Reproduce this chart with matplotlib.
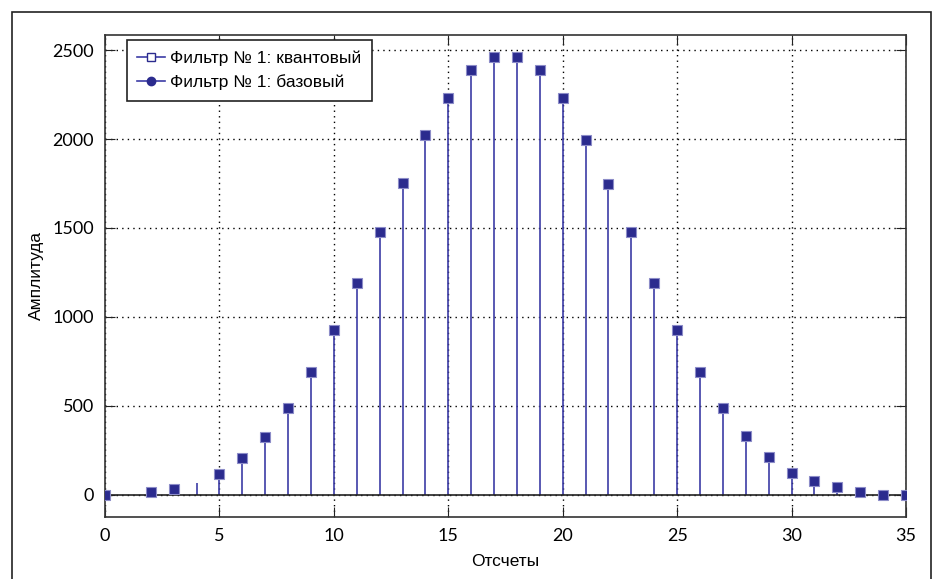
import matplotlib
matplotlib.use("Agg")
import matplotlib.pyplot as plt
import numpy as np
from matplotlib.lines import Line2D
from matplotlib.patches import Rectangle
from matplotlib.legend_handler import HandlerLine2D

# отсчеты и амплитуды фильтра
samples = list(range(36))
base = [0, 0, 13, 32, 66, 118, 208, 326, 489, 691, 927, 1191, 1477, 1753, 2020,
        2230, 2388, 2462, 2462, 2388, 2230, 1996, 1747, 1477, 1191, 927, 691,
        489, 333, 211, 125, 80, 42, 16, 0, 0]
quant = [0, None, 13, 32, None, 118, 208, 326, 489, 691, 927, 1191, 1477, 1753,
         2020, 2230, 2388, 2462, 2462, 2388, 2230, 1996, 1747, 1477, 1191, 927,
         691, 489, 333, 211, 125, 80, 42, 16, 0, 0]

line_color = "#3c3ca6"
mark_color = "#2b2b8e"

plt.rcParams['font.family'] = ['Liberation Sans', 'DejaVu Sans']


class EndMarkerHandler(HandlerLine2D):
    # маркер на правом конце линии в легенде
    def get_xdata(self, legend, xdescent, ydescent, width, height, fontsize):
        xdata = np.array([-xdescent, -xdescent + width])
        return xdata, np.array([-xdescent + width - 3])


fig = plt.figure(figsize=(9.36, 5.79), dpi=100)
ax = fig.add_axes([105 / 936, 1 - 517 / 579, 801 / 936, 482 / 579])

# рамка вокруг рисунка
fig.patches.append(Rectangle((12 / 936, -0.05), 919 / 936, 1 - 12 / 579 + 0.05,
                             transform=fig.transFigure, fill=False,
                             edgecolor="#222222", linewidth=1.2))

x = np.array(samples)
ax.vlines(x, 0, base, color=line_color, linewidth=1.2, zorder=2)
ax.plot([0, 35], [0, 0], color="#222222", linewidth=1.2, zorder=2)
q = np.array([np.nan if v is None else v for v in quant], dtype=float)
ax.plot(x, q, linestyle="none", marker="s", markersize=7,
        markerfacecolor=mark_color, markeredgecolor="#8c8cc8",
        markeredgewidth=0.8, zorder=3)

ax.set_xlim(0, 35)
ax.set_ylim(-125, 2585)
ax.set_xticks(range(0, 36, 5))
ax.set_yticks(range(0, 2501, 500))
ax.grid(True, color="black", linestyle=(0, (1, 3)), linewidth=1.0)
ax.tick_params(direction="in", length=7, top=True, right=True,
               labelsize=13, color="#222222", pad=8)
for lbl in ax.get_xticklabels() + ax.get_yticklabels():
    lbl.set_family(['Lato', 'DejaVu Sans'])
for s in ax.spines.values():
    s.set_color("#333333")
    s.set_linewidth(1.2)

ax.set_xlabel("Отсчеты", fontsize=12.5, labelpad=7)
ax.set_ylabel("Амплитуда", fontsize=12.5, labelpad=6)

h1 = Line2D([], [], color=line_color, linewidth=1.2, marker="s",
            markersize=6, markerfacecolor="white", markeredgecolor=mark_color)
h2 = Line2D([], [], color=line_color, linewidth=1.2, marker="o",
            markersize=6, markerfacecolor=mark_color, markeredgecolor=mark_color)
leg = ax.legend([h1, h2], ["Фильтр № 1: квантовый", "Фильтр № 1: базовый"],
                loc="upper left", bbox_to_anchor=(0.0275, 0.99), fontsize=12.5,
                numpoints=1, handlelength=1.6, handletextpad=0.3,
                borderpad=0.6, labelspacing=0.5, borderaxespad=0,
                fancybox=False, framealpha=1, edgecolor="#222222",
                handler_map={Line2D: EndMarkerHandler()})
leg.get_frame().set_linewidth(1.2)

fig.savefig("out.png", dpi=100)
